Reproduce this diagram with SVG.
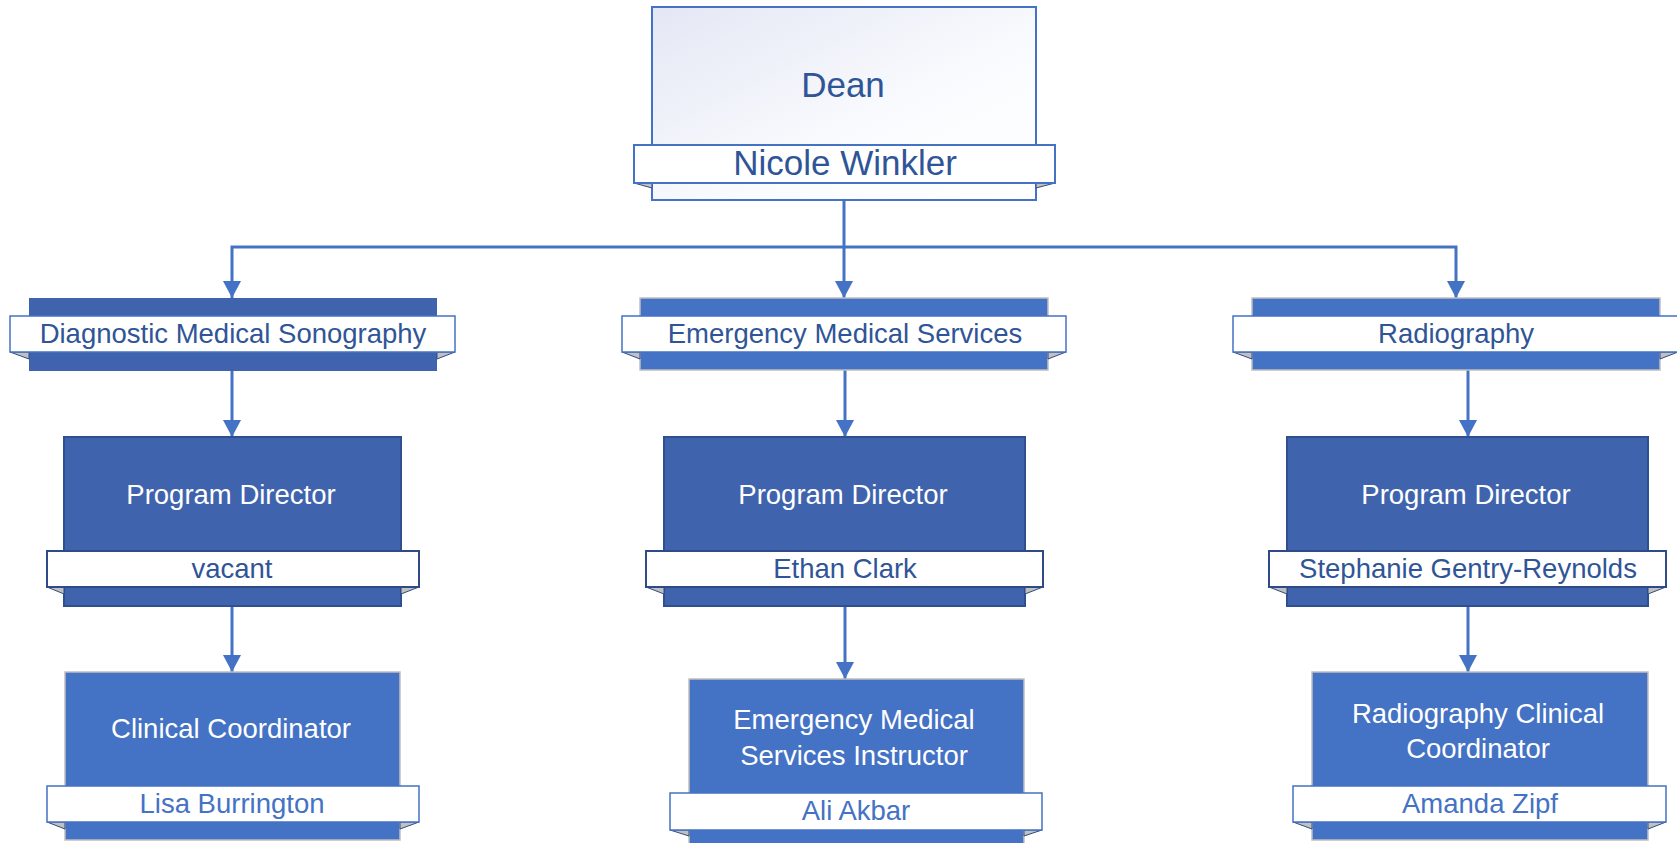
<svg xmlns="http://www.w3.org/2000/svg" width="1677" height="843" viewBox="0 0 1677 843">
<defs>
<linearGradient id="deanGrad" x1="0" y1="0" x2="1" y2="1">
<stop offset="0" stop-color="#E4E7F4"/>
<stop offset="0.6" stop-color="#FAFBFE"/>
<stop offset="1" stop-color="#FFFFFF"/>
</linearGradient>
<marker id="arrow" markerWidth="17" markerHeight="18" refX="17" refY="9" orient="auto" markerUnits="userSpaceOnUse" viewBox="0 0 17 18">
<path d="M0,0 L17,9 L0,18 Z" fill="#4472C4"/>
</marker>
<style>
text{font-family:"Liberation Sans",Arial,sans-serif;text-anchor:middle}
.conn{fill:none;stroke:#4472C4;stroke-width:3}
.dark{fill:#3F64AD;stroke:#2F4F8F;stroke-width:2}
.darkflat{fill:#3F64AD;stroke:none}
.light{fill:#4472C4;stroke:#BFBFBF;stroke-width:1.5}
.ban{fill:#FFFFFF;stroke:#4472C4;stroke-width:1.5}
.banD{fill:#FFFFFF;stroke:#2F4B87;stroke-width:2}
.fold{fill:#C0C0C0;stroke:#2F4B87;stroke-width:1}
.title{fill:#FFFFFF;font-size:27.5px}
.nm{fill:#2F5597;font-size:27.5px}
.nmL{fill:#4472C4;font-size:27.5px}
</style>
</defs>

<g id="connectors">
<polyline class="conn" points="844,188 844,247"/>
<polyline class="conn" points="844,247 232,247 232,298" marker-end="url(#arrow)"/>
<polyline class="conn" points="844,247 844,298" marker-end="url(#arrow)"/>
<polyline class="conn" points="844,247 1456,247 1456,298" marker-end="url(#arrow)"/>
<polyline class="conn" points="232,371 232,437" marker-end="url(#arrow)"/>
<polyline class="conn" points="845,370 845,437" marker-end="url(#arrow)"/>
<polyline class="conn" points="1468,370 1468,437" marker-end="url(#arrow)"/>
<polyline class="conn" points="232,606 232,672" marker-end="url(#arrow)"/>
<polyline class="conn" points="845,606 845,679" marker-end="url(#arrow)"/>
<polyline class="conn" points="1468,606 1468,672" marker-end="url(#arrow)"/>
</g>

<g id="dean">
<rect x="652" y="7" width="384" height="193" fill="url(#deanGrad)" stroke="#4472C4" stroke-width="2"/>
<path class="fold" d="M634,183 L652,183 L652,188 Z" fill="#C8C8C8" stroke="#2F4B87"/>
<path class="fold" d="M1055,183 L1036,183 L1036,188 Z" fill="#C8C8C8" stroke="#2F4B87"/>
<rect x="634" y="145" width="421" height="38" fill="#FFFFFF" stroke="#4472C4" stroke-width="2"/>
<text x="843" y="97" fill="#2F5597" font-size="35">Dean</text>
<text x="845" y="175" fill="#2F5597" font-size="35">Nicole Winkler</text>
</g>

<g id="dept-dms">
<rect class="darkflat" x="29" y="298" width="408" height="73"/>
<path class="fold" d="M10,352 L29,352 L29,359 Z"/>
<path class="fold" d="M455,352 L437,352 L437,359 Z"/>
<rect class="ban" x="10" y="316" width="445" height="36"/>
<text class="nm" x="233" y="343">Diagnostic Medical Sonography</text>
</g>

<g id="dept-ems">
<rect class="light" x="640" y="298" width="408" height="72"/>
<path class="fold" d="M622,352 L640,352 L640,359 Z"/>
<path class="fold" d="M1066,352 L1048,352 L1048,359 Z"/>
<rect class="ban" x="622" y="316" width="444" height="36"/>
<text class="nm" x="845" y="343">Emergency Medical Services</text>
</g>

<g id="dept-rad">
<rect class="light" x="1252" y="298" width="408" height="72"/>
<path class="fold" d="M1233,352 L1252,352 L1252,359 Z"/>
<path class="fold" d="M1678,352 L1660,352 L1660,359 Z"/>
<rect class="ban" x="1233" y="316" width="445" height="36"/>
<text class="nm" x="1456" y="343">Radiography</text>
</g>

<g id="pd-dms">
<rect class="dark" x="64" y="437" width="337" height="169"/>
<path class="fold" d="M47,587 L64,587 L64,594 Z"/>
<path class="fold" d="M419,587 L401,587 L401,594 Z"/>
<rect class="banD" x="47" y="551" width="372" height="36"/>
<text class="title" x="231" y="504">Program Director</text>
<text class="nm" x="232" y="578">vacant</text>
</g>

<g id="pd-ems">
<rect class="dark" x="664" y="437" width="361" height="169"/>
<path class="fold" d="M646,587 L664,587 L664,594 Z"/>
<path class="fold" d="M1043,587 L1025,587 L1025,594 Z"/>
<rect class="banD" x="646" y="551" width="397" height="36"/>
<text class="title" x="843" y="504">Program Director</text>
<text class="nm" x="845" y="578">Ethan Clark</text>
</g>

<g id="pd-rad">
<rect class="dark" x="1287" y="437" width="361" height="169"/>
<path class="fold" d="M1269,587 L1287,587 L1287,594 Z"/>
<path class="fold" d="M1666,587 L1648,587 L1648,594 Z"/>
<rect class="banD" x="1269" y="551" width="397" height="36"/>
<text class="title" x="1466" y="504">Program Director</text>
<text class="nm" x="1468" y="578">Stephanie Gentry-Reynolds</text>
</g>

<g id="cc-dms">
<rect class="light" x="65" y="672" width="335" height="168"/>
<path class="fold" d="M47,822 L65,822 L65,829 Z"/>
<path class="fold" d="M419,822 L400,822 L400,829 Z"/>
<rect class="ban" x="47" y="786" width="372" height="36"/>
<text class="title" x="231" y="738">Clinical Coordinator</text>
<text class="nmL" x="232" y="813">Lisa Burrington</text>
</g>

<g id="inst-ems">
<rect class="light" x="689" y="679" width="335" height="175"/>
<path class="fold" d="M670,830 L689,830 L689,836 Z"/>
<path class="fold" d="M1042,830 L1024,830 L1024,836 Z"/>
<rect class="ban" x="670" y="793" width="372" height="37"/>
<text class="title" x="854" y="729">Emergency Medical</text>
<text class="title" x="854" y="765">Services Instructor</text>
<text class="nmL" x="856" y="820">Ali Akbar</text>
</g>

<g id="cc-rad">
<rect class="light" x="1312" y="672" width="336" height="168"/>
<path class="fold" d="M1293,822 L1312,822 L1312,829 Z"/>
<path class="fold" d="M1666,822 L1648,822 L1648,829 Z"/>
<rect class="ban" x="1293" y="786" width="373" height="36"/>
<text class="title" x="1478" y="723">Radiography Clinical</text>
<text class="title" x="1478" y="758">Coordinator</text>
<text class="nmL" x="1480" y="813">Amanda Zipf</text>
</g>
</svg>
